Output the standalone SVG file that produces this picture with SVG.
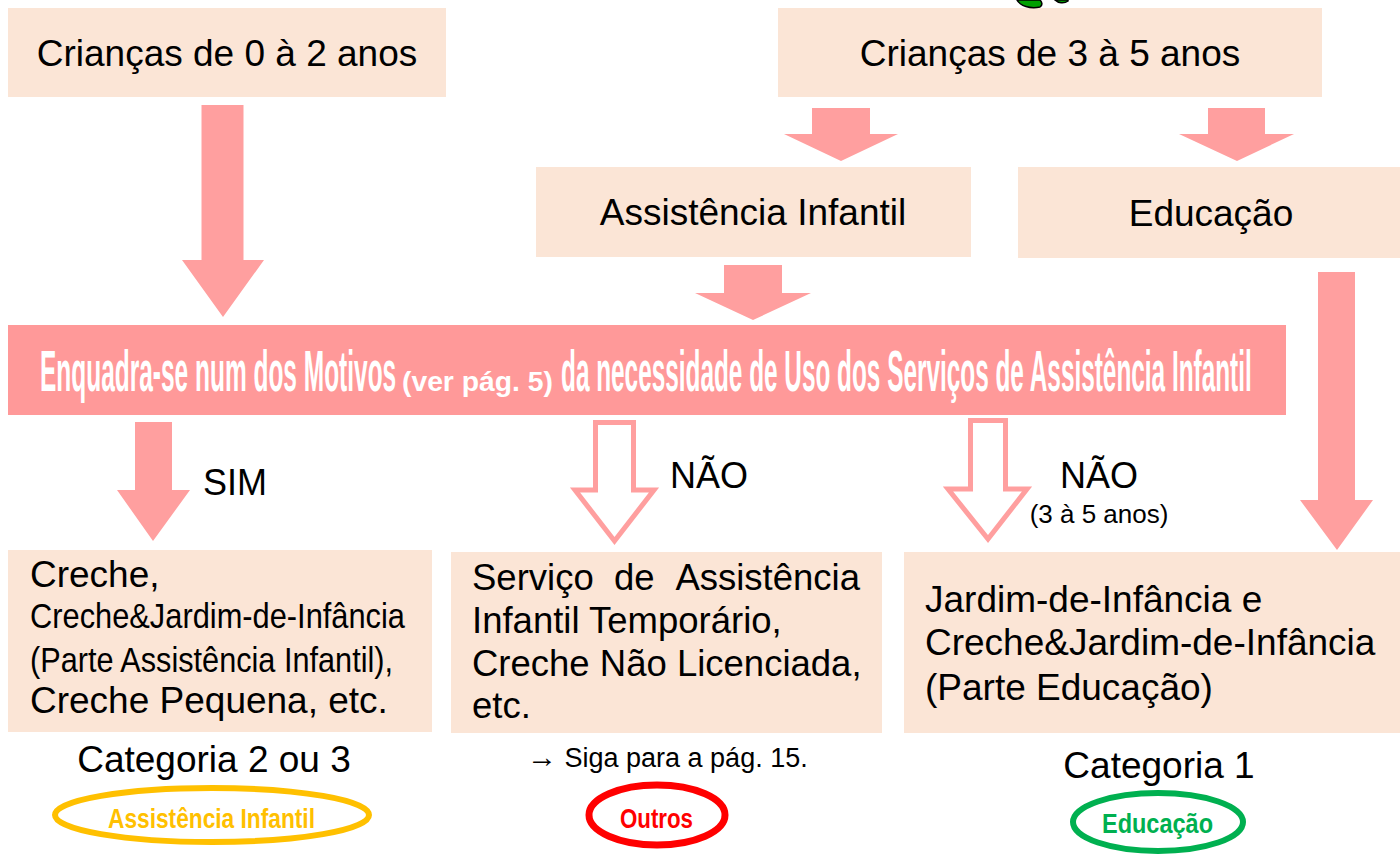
<svg xmlns="http://www.w3.org/2000/svg" width="1400" height="854" viewBox="0 0 1400 854">
<style>
.box{fill:#FBE5D6}
.arr{fill:#FF9F9F}
.hollow{fill:#FFFFFF;stroke:#FF9F9F;stroke-width:5;stroke-linejoin:miter}
.t{font-family:"Liberation Sans",Arial,sans-serif;fill:#000}
.bar{font-family:"Liberation Sans",Arial,sans-serif;font-weight:bold;fill:#FFFFFF}
.tag{font-family:"Liberation Sans Narrow","Liberation Sans",Arial,sans-serif;font-weight:bold;font-size:27px}
</style>
<rect width="1400" height="854" fill="#FFFFFF"/>

<g id="box-0-2">
<rect class="box" x="8" y="8" width="438" height="89"/>
<text class="t" x="227" y="66" font-size="37" text-anchor="middle">Crianças de 0 à 2 anos</text>
</g>

<g id="box-3-5">
<rect class="box" x="778" y="8" width="544" height="89"/>
<text class="t" x="1050" y="66" font-size="37" text-anchor="middle">Crianças de 3 à 5 anos</text>
</g>

<g id="leaves">
<path d="M1017,0 C1020,6 1030,9 1040,7 C1043,5 1042,2 1040,0 Z" fill="#00A000" stroke="#000" stroke-width="1.5"/>
<path d="M1055,0 C1058,3 1064,4 1068,1 L1068,0 Z" fill="#00A000" stroke="#000" stroke-width="1.5"/>
</g>

<g id="box-assist">
<rect class="box" x="536" y="167" width="435" height="90"/>
<text class="t" x="753" y="225" font-size="37" text-anchor="middle">Assistência Infantil</text>
</g>

<g id="box-educ">
<rect class="box" x="1018" y="167" width="382" height="91"/>
<text class="t" x="1211" y="226" font-size="37" text-anchor="middle">Educação</text>
</g>

<g id="bar-motivos">
<rect x="8" y="325" width="1278" height="90" fill="#FF9999"/>
<text class="bar" transform="translate(40 391) scale(0.422 1)" font-size="58">Enquadra-se num dos Motivos</text>
<text class="bar" transform="translate(402 391) scale(1.048 1)" font-size="27">(ver pág. 5)</text>
<text class="bar" transform="translate(561 391) scale(0.420 1)" font-size="58">da necessidade de Uso dos Serviços de Assistência Infantil</text>
</g>

<g id="box-creche">
<rect class="box" x="8" y="550" width="424" height="182"/>
<text class="t" x="30" y="587" font-size="37">Creche,</text>
<text class="t" x="30" y="628" font-size="35" textLength="375" lengthAdjust="spacingAndGlyphs">Creche&amp;Jardim-de-Infância</text>
<text class="t" x="30" y="672" font-size="35" textLength="363" lengthAdjust="spacingAndGlyphs">(Parte Assistência Infantil),</text>
<text class="t" x="30" y="713" font-size="37">Creche Pequena, etc.</text>
</g>

<g id="box-outros">
<rect class="box" x="451" y="552" width="431" height="181"/>
<text class="t" x="472" y="590" font-size="36.5">Serviço</text>
<text class="t" x="614" y="590" font-size="36.5">de</text>
<text class="t" x="860" y="590" font-size="36.5" text-anchor="end">Assistência</text>
<text class="t" x="472" y="633" font-size="36.5">Infantil Temporário,</text>
<text class="t" x="472" y="676" font-size="36.5">Creche Não Licenciada,</text>
<text class="t" x="472" y="718" font-size="36.5">etc.</text>
</g>

<g id="box-jardim">
<rect class="box" x="904" y="552" width="496" height="181"/>
<text class="t" x="925" y="612" font-size="37">Jardim-de-Infância e</text>
<text class="t" x="925" y="655" font-size="37">Creche&amp;Jardim-de-Infância</text>
<text class="t" x="925" y="700" font-size="37">(Parte Educação)</text>
</g>

<g id="connectors">
<path class="arr" d="M201.5,105 H243.5 V260 H264 L223,317 L182,260 H201.5 Z"/>
<path class="arr" d="M812,108 H870 V134 H898 L841,161 L784,134 H812 Z"/>
<path class="arr" d="M1208,108 H1265 V134 H1294 L1237,161 L1179,134 H1208 Z"/>
<path class="arr" d="M724,265 H782 V293 H811 L753,320 L695,293 H724 Z"/>
<path class="arr" d="M1318,272 H1355 V500 H1373 L1337,550 L1300,500 H1318 Z"/>
<path class="arr" d="M135,422 H172 V490 H190 L153,541 L117,490 H135 Z"/>
<path class="hollow" d="M595.5,422.5 H633.5 V490 H654 L614.5,541 L575,490 H595.5 Z"/>
<path class="hollow" d="M970.5,420.5 H1005.5 V489 H1027 L988,539 L948,489 H970.5 Z"/>
<text class="t" x="203" y="495" font-size="36">SIM</text>
<text class="t" x="670" y="488" font-size="36">NÃO</text>
<text class="t" x="1060" y="488" font-size="36">NÃO</text>
<text class="t" x="1099" y="523" font-size="26" text-anchor="middle">(3 à 5 anos)</text>
</g>

<g id="cat-assist">
<text class="t" x="214" y="772" font-size="37" text-anchor="middle">Categoria 2 ou 3</text>
<ellipse cx="212" cy="815" rx="157" ry="27" fill="none" stroke="#FFC000" stroke-width="6"/>
<text class="tag" x="108" y="828" fill="#FFC000" textLength="207" lengthAdjust="spacingAndGlyphs">Assistência Infantil</text>
</g>

<g id="cat-outros">
<text class="t" x="527" y="767" font-size="27"><tspan font-size="30">→</tspan> Siga para a pág. 15.</text>
<ellipse cx="657" cy="815" rx="68" ry="30" fill="none" stroke="#FF0000" stroke-width="7"/>
<text class="tag" x="620" y="828" fill="#FF0000" textLength="73" lengthAdjust="spacingAndGlyphs">Outros</text>
</g>

<g id="cat-educ">
<text class="t" x="1159" y="778" font-size="37" text-anchor="middle">Categoria 1</text>
<ellipse cx="1158" cy="822" rx="85" ry="29" fill="none" stroke="#00B050" stroke-width="6"/>
<text class="tag" x="1102" y="833" fill="#00B050" textLength="111" lengthAdjust="spacingAndGlyphs">Educação</text>
</g>
</svg>
